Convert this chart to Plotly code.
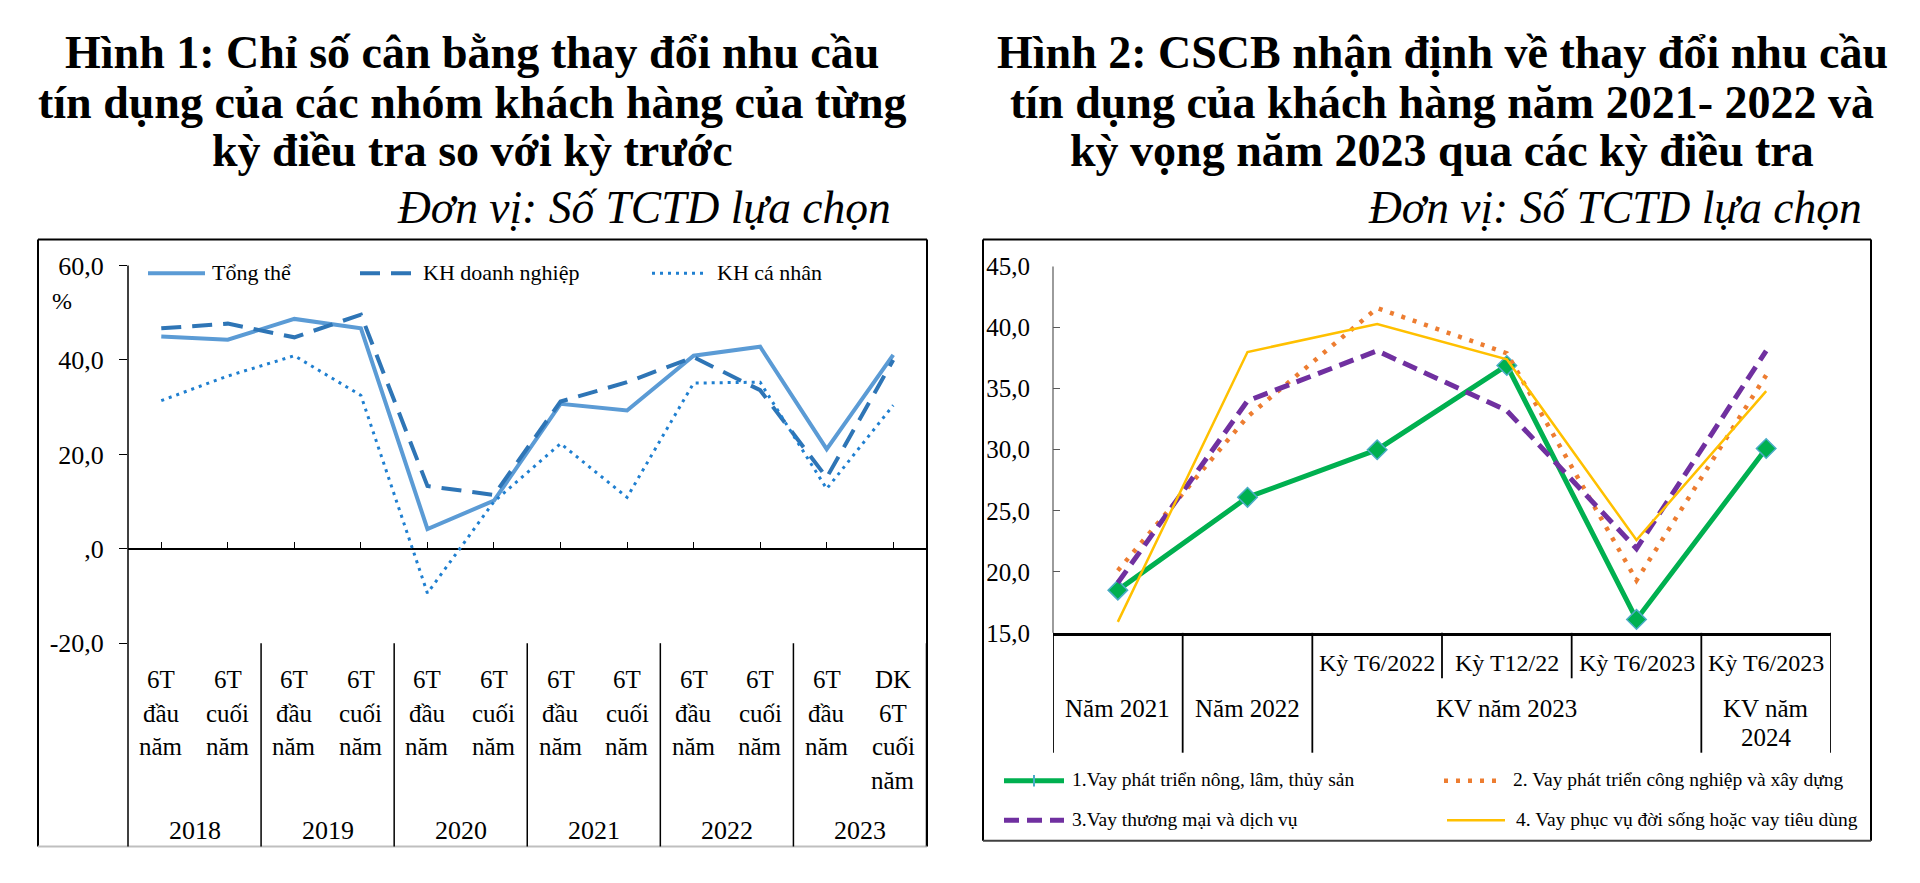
import plotly.graph_objects as go

# ---------------- data ----------------
left_x = list(range(12))
left_cat_labels = ["6T<br>đầu<br>năm", "6T<br>cuối<br>năm", "6T<br>đầu<br>năm", "6T<br>cuối<br>năm",
                   "6T<br>đầu<br>năm", "6T<br>cuối<br>năm", "6T<br>đầu<br>năm", "6T<br>cuối<br>năm",
                   "6T<br>đầu<br>năm", "6T<br>cuối<br>năm", "6T<br>đầu<br>năm", "DK<br>6T<br>cuối<br>năm"]
left_years = ["2018", "2019", "2020", "2021", "2022", "2023"]
tong_the = [45.0, 44.3, 48.7, 46.7, 4.2, 10.2, 30.7, 29.3, 40.9, 42.8, 21.1, 41.1]
kh_doanh_nghiep = [46.7, 47.7, 44.8, 49.6, 13.3, 11.4, 31.2, 35.3, 40.6, 33.6, 15.1, 40.0]
kh_ca_nhan = [31.4, 36.6, 40.9, 32.5, -9.4, 10.0, 22.3, 10.9, 35.1, 35.3, 12.7, 30.4]
left_names = ["Tổng thể", "KH doanh nghiệp", "KH cá nhân"]
left_yticks = [60, 40, 20, 0, -20]
left_yticktext = ["60,0", "40,0", "20,0", ",0", "-20,0"]

right_x = list(range(6))
right_row1 = ["", "", "Kỳ T6/2022", "Kỳ T12/22", "Kỳ T6/2023", "Kỳ T6/2023"]
right_row2 = ["Năm 2021", "Năm 2022", "", "KV năm 2023", "", "KV năm<br>2024"]
nong_lam = [18.5, 26.1, 30.0, 36.9, 16.1, 30.1]
cong_nghiep = [20.1, 32.7, 41.6, 37.9, 19.3, 36.1]
thuong_mai = [19.1, 34.0, 38.1, 33.2, 21.9, 38.1]
doi_song = [15.9, 38.0, 40.3, 37.4, 22.6, 34.8]
right_names = ["1.Vay phát triển nông, lâm, thủy sản", "2. Vay phát triển công nghiệp và xây dựng",
               "3.Vay thương mại và dịch vụ", "4. Vay phục vụ đời sống hoặc vay tiêu dùng"]
right_yticks = [15, 20, 25, 30, 35, 40, 45]
right_yticktext = ["15,0", "20,0", "25,0", "30,0", "35,0", "40,0", "45,0"]

title1 = ["Hình 1: Chỉ số cân bằng thay đổi nhu cầu", "tín dụng của các nhóm khách hàng của từng",
          "kỳ điều tra so với kỳ trước"]
title2 = ["Hình 2: CSCB nhận định về thay đổi nhu cầu", "tín dụng của khách hàng năm 2021- 2022 và",
          "kỳ vọng năm 2023 qua các kỳ điều tra"]
subtitle = "Đơn vị: Số TCTD lựa chọn"

# ---------------- layout helpers ----------------
# the page body has an 8px default margin on every side: size the figure so the
# whole page is exactly 1920x883 and express positions in page pixels
OFF = 8
W, H = 1920 - 2 * OFF, 883 - 2 * OFF
FONT = "Liberation Serif"


def X(px):
    return (px - OFF) / W


def Y(py):
    return 1 - (py - OFF) / H


fig = go.Figure()

# left chart series
C_TT, C_DN, C_CN = "#5B9BD5", "#2E75B6", "#1F7FD0"
fig.add_trace(go.Scatter(x=left_x, y=tong_the, mode="lines", name=left_names[0],
                         line=dict(color=C_TT, width=4), xaxis="x", yaxis="y"))
fig.add_trace(go.Scatter(x=left_x, y=kh_doanh_nghiep, mode="lines", name=left_names[1],
                         line=dict(color=C_DN, width=4, dash="20px,11px"), xaxis="x", yaxis="y"))
fig.add_trace(go.Scatter(x=left_x, y=kh_ca_nhan, mode="lines", name=left_names[2],
                         line=dict(color=C_CN, width=3, dash="3px,5px"), xaxis="x", yaxis="y"))

# right chart series
C_G, C_O, C_P, C_Y = "#00B050", "#ED7D31", "#7030A0", "#FFC000"
fig.add_trace(go.Scatter(x=right_x, y=nong_lam, mode="lines+markers", name=right_names[0],
                         line=dict(color=C_G, width=5),
                         marker=dict(symbol="diamond", size=15, color=C_G,
                                     line=dict(color="#4BACC6", width=1.5)),
                         xaxis="x2", yaxis="y2"))
fig.add_trace(go.Scatter(x=right_x, y=cong_nghiep, mode="lines", name=right_names[1],
                         line=dict(color=C_O, width=4.5, dash="4px,8px"), xaxis="x2", yaxis="y2"))
fig.add_trace(go.Scatter(x=right_x, y=thuong_mai, mode="lines", name=right_names[2],
                         line=dict(color=C_P, width=5, dash="15px,8px"), xaxis="x2", yaxis="y2"))
fig.add_trace(go.Scatter(x=right_x, y=doi_song, mode="lines", name=right_names[3],
                         line=dict(color=C_Y, width=2.5), xaxis="x2", yaxis="y2"))

shapes = []
ann = []


def text(x, y, s, size, xanchor="center", yanchor="middle", bold=False, italic=False, color="#000"):
    f = dict(family=FONT, size=size, color=color)
    if bold:
        f["weight"] = "bold"
    if italic:
        f["style"] = "italic"
    ann.append(dict(x=X(x), y=Y(y), xref="paper", yref="paper", text=s, showarrow=False,
                    xanchor=xanchor, yanchor=yanchor, font=f))


def pline(x0, y0, x1, y1, color="#000", width=1.5, dash="solid"):
    shapes.append(dict(type="line", xref="paper", yref="paper", x0=X(x0), y0=Y(y0), x1=X(x1), y1=Y(y1),
                       line=dict(color=color, width=width, dash=dash)))


# titles
for i, (s1, s2) in enumerate(zip(title1, title2)):
    yy = [40, 91, 141][i]
    text(472, yy, s1, 46, bold=True)
    text(1442, yy, s2, 46, bold=True)
text(893, 200, subtitle, 45.5, xanchor="right", italic=True)
text(1864, 200, subtitle, 45.5, xanchor="right", italic=True)

# ---------------- left chart frame ----------------
pline(38, 233, 927, 233, width=2)
pline(38, 233, 38, 861, width=2)
pline(927, 233, 927, 861, width=2)
pline(38, 861, 927, 861, color="#bfbfbf", width=2)
pline(128, 260, 128, 861, width=1.5)
for k in range(1, 7):
    xs = -0.5 + 2 * k
    shapes.append(dict(type="line", xref="x", yref="paper", x0=xs, x1=xs, y0=Y(650.7), y1=Y(861),
                       line=dict(color="#000", width=1.5)))
for i, lab in enumerate(left_cat_labels):
    for j, part in enumerate(lab.split("<br>")):
        ann.append(dict(x=left_x[i], y=Y(688 + 35 * j), xref="x", yref="paper", text=part,
                        showarrow=False, xanchor="center", yanchor="middle",
                        font=dict(family=FONT, size=25, color="#000")))
for k, yr in enumerate(left_years):
    ann.append(dict(x=2 * k + 0.5, y=Y(844), xref="x", yref="paper", text=yr, showarrow=False,
                    xanchor="center", yanchor="middle", font=dict(family=FONT, size=26, color="#000")))
text(62, 297, "%", 24)

# left legend
pline(148, 268, 205, 268, color=C_TT, width=4)
text(210, 267, left_names[0], 22, xanchor="left")
pline(360, 268, 413, 268, color=C_DN, width=4, dash="20px,11px")
text(421, 267, left_names[1], 22, xanchor="left")
pline(652, 268, 705, 268, color=C_CN, width=3, dash="3px,5px")
text(715, 267, left_names[2], 22, xanchor="left")

# ---------------- right chart frame ----------------
pline(983, 233, 1871, 233, width=2)
pline(983, 233, 983, 855, width=2)
pline(1871, 233, 1871, 855, width=2)
pline(983, 855, 1871, 855, color="#404040", width=2)
pline(1053, 261, 1053, 640, color="#595959", width=1.2)
for xs in [-0.5, 0.5, 1.5, 4.5, 5.5]:
    shapes.append(dict(type="line", xref="x2", yref="paper", x0=xs, x1=xs, y0=Y(640), y1=Y(764),
                       line=dict(color="#000", width=1.8)))
for xs in [2.5, 3.5]:
    shapes.append(dict(type="line", xref="x2", yref="paper", x0=xs, x1=xs, y0=Y(640), y1=Y(687),
                       line=dict(color="#000", width=1.8)))
for i in right_x:
    if right_row1[i]:
        ann.append(dict(x=i, y=Y(671), xref="x2", yref="paper", text=right_row1[i], showarrow=False,
                        xanchor="center", yanchor="middle", font=dict(family=FONT, size=24, color="#000")))
    if right_row2[i]:
        for j, part in enumerate(right_row2[i].split("<br>")):
            ann.append(dict(x=i, y=Y(718 + 30 * j), xref="x2", yref="paper", text=part, showarrow=False,
                            xanchor="center", yanchor="middle",
                            font=dict(family=FONT, size=25, color="#000")))

# right legend
pline(1004, 793, 1064, 793, color=C_G, width=5)
pline(1034, 787, 1034, 799, color="#4BACC6", width=2)
text(1070, 792, right_names[0], 19.5, xanchor="left")
pline(1444, 793, 1504, 793, color=C_O, width=4.5, dash="4px,8px")
text(1511, 792, right_names[1], 19.5, xanchor="left")
pline(1004, 834, 1064, 834, color=C_P, width=5, dash="15px,8px")
text(1070, 833, right_names[2], 19.5, xanchor="left")
pline(1447, 834, 1505, 834, color=C_Y, width=2.5)
text(1514, 833, right_names[3], 19.5, xanchor="left")

tickfont = dict(family=FONT, size=26, color="#000")
fig.update_layout(
    width=W, height=H, margin=dict(l=0, r=0, t=0, b=0),
    paper_bgcolor="white", plot_bgcolor="white", showlegend=False,
    xaxis=dict(domain=[X(128), X(926.5)], range=[-0.5, 11.5], anchor="free", position=Y(552.3),
               showline=False, showgrid=False, zeroline=False, showticklabels=False,
               ticks="inside", ticklen=6, tickwidth=1.2, tickcolor="#000", tickvals=left_x),
    yaxis=dict(domain=[Y(650.7), Y(260)], range=[-20, 60], anchor="x", showline=False,
               showgrid=False, zeroline=True, zerolinecolor="#000", zerolinewidth=1.5,
               tickvals=left_yticks, ticktext=left_yticktext, ticks="outside", ticklen=8,
               tickcolor="#000", tickwidth=1.2, tickfont=tickfont, ticklabelstandoff=10),
    xaxis2=dict(domain=[X(1053), X(1831)], range=[-0.5, 5.5], anchor="y2", showline=True,
                linecolor="#000", linewidth=3, showgrid=False, zeroline=False,
                showticklabels=False, ticks=""),
    yaxis2=dict(domain=[Y(640), Y(261)], range=[15, 45], anchor="x2", showline=False,
                showgrid=False, zeroline=False, tickvals=right_yticks, ticktext=right_yticktext,
                ticks="inside", ticklen=7, tickcolor="#595959", tickwidth=1.2,
                tickfont=dict(family=FONT, size=25, color="#000"), ticklabelstandoff=22),
    shapes=shapes, annotations=ann,
)

fig.write_html("out.html")
